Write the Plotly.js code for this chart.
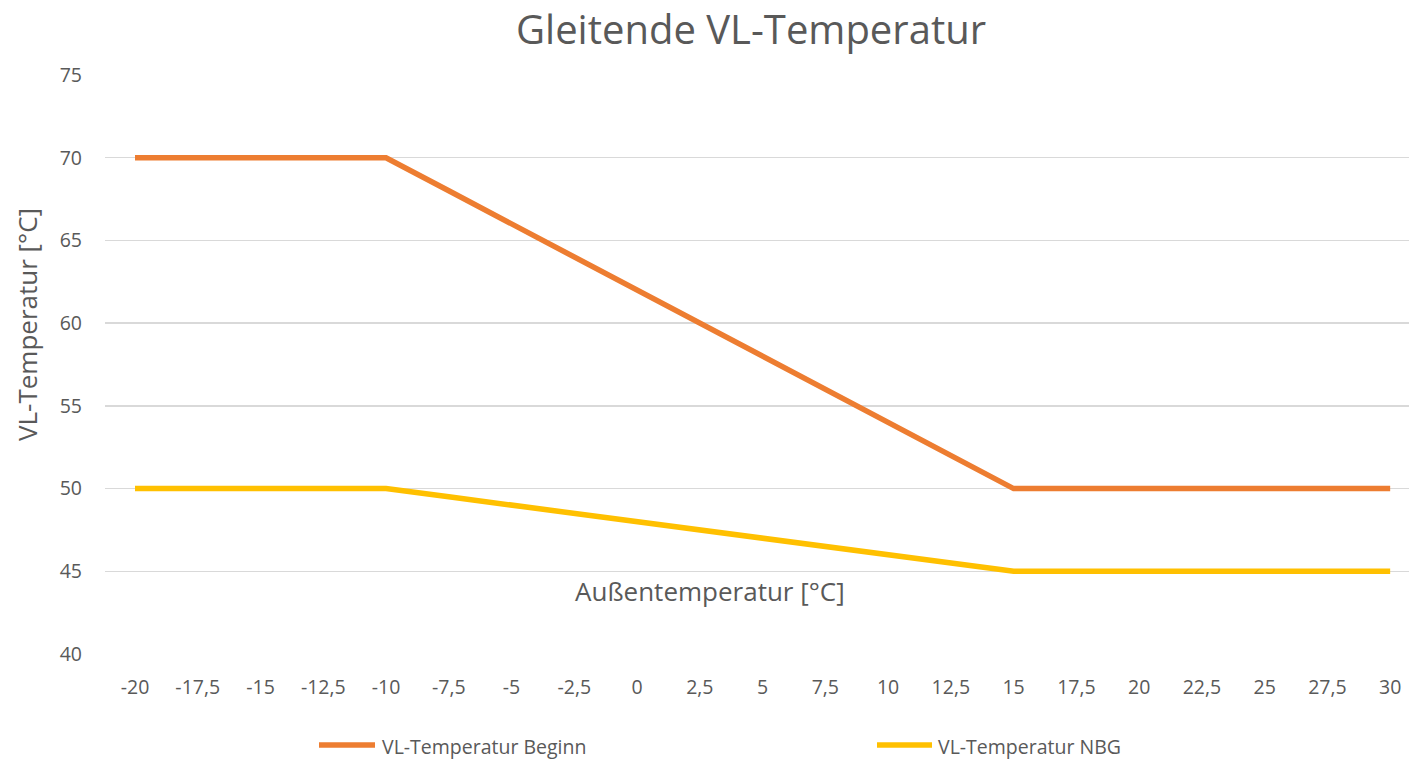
<!DOCTYPE html>
<html>
<head>
<meta charset="utf-8">
<script src="https://cdn.plot.ly/plotly-3.0.1.min.js"></script>
<style>html,body{margin:0;padding:0;background:#fff;}#chart{width:1409px;height:759px;}</style>
</head>
<body>
<div id="chart"></div>
<script>
const categories = ["-20","-17,5","-15","-12,5","-10","-7,5","-5","-2,5","0","2,5","5","7,5","10","12,5","15","17,5","20","22,5","25","27,5","30"];
const seriesNames = ["VL-Temperatur Beginn", "VL-Temperatur NBG"];
const beginnValues = [70,70,70,70,70,68,66,64,62,60,58,56,54,52,50,50,50,50,50,50,50];
const nbgValues = [50,50,50,50,50,49.5,49,48.5,48,47.5,47,46.5,46,45.5,45,45,45,45,45,45,45];
const yTicks = [40,45,50,55,60,65,70,75];
const colors = ["#ED7D31", "#FFC000"];
const FONT = "Open Sans, sans-serif";
const GREY = "#595959";

const traces = [
  {x: categories, y: beginnValues, name: seriesNames[0], type: "scatter", mode: "lines",
   line: {color: colors[0], width: 5.5}, showlegend: false, cliponaxis: false},
  {x: categories, y: nbgValues, name: seriesNames[1], type: "scatter", mode: "lines",
   line: {color: colors[1], width: 5.5}, showlegend: false, cliponaxis: false}
];

const legendX = [[319, 375, 380], [877, 932, 936]];
const shapes = [];
const annotations = [
  {xref: "paper", yref: "paper", x: (710-105)/1304, y: (654-591)/579, text: "Außentemperatur [°C]",
   showarrow: false, font: {family: FONT, size: 26, color: GREY}, xanchor: "center", yanchor: "middle"},
  {xref: "paper", yref: "paper", x: (27-105)/1304, y: (654-325)/579, text: "VL-Temperatur [°C]", textangle: -90,
   showarrow: false, font: {family: FONT, size: 26, color: GREY}, xanchor: "center", yanchor: "middle"}
];
seriesNames.forEach((n, i) => {
  const [a, b, t] = legendX[i];
  shapes.push({type: "line", xref: "paper", yref: "paper",
    x0: (a-105)/1304, x1: (b-105)/1304, y0: (654-745)/579, y1: (654-745)/579,
    line: {color: colors[i], width: 5.5}});
  annotations.push({xref: "paper", yref: "paper", x: (t-105)/1304, y: (654-746)/579, text: n,
    showarrow: false, xanchor: "left", yanchor: "middle", font: {family: FONT, size: 19.5, color: GREY}});
});

const layout = {
  width: 1409, height: 759,
  margin: {l: 105, r: 0, t: 75, b: 105},
  paper_bgcolor: "#fff", plot_bgcolor: "#fff",
  title: {text: "Gleitende VL-Temperatur", x: 751/1409, xanchor: "center", y: 1 - 30/759, yanchor: "middle",
    font: {family: FONT, size: 40, color: GREY}},
  font: {family: FONT, color: GREY},
  xaxis: {type: "category", range: [-0.478, 20.3], showgrid: false, zeroline: false, showline: false,
    ticks: "", ticklabelstandoff: 19, tickfont: {family: FONT, size: 19.5, color: GREY}, fixedrange: true},
  yaxis: {range: [40, 75], tickvals: yTicks, ticktext: yTicks.map(String), showgrid: true, gridcolor: "#D9D9D9", gridwidth: 1.5,
    zeroline: false, showline: false, ticks: "", ticklabelstandoff: 22,
    tickfont: {family: FONT, size: 19.5, color: GREY}},
  shapes: shapes,
  annotations: annotations
};

Plotly.newPlot("chart", traces, layout, {displayModeBar: false, staticPlot: true});
</script>
</body>
</html>
